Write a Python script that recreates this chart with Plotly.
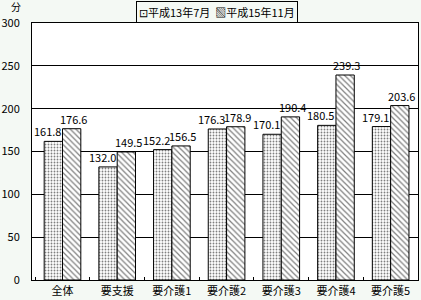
import plotly.graph_objects as go

categories = ["全体", "要支援", "要介護1", "要介護2", "要介護3", "要介護4", "要介護5"]
series_names = ["平成13年7月", "平成15年11月"]
h13 = [161.8, 132.0, 152.2, 176.3, 170.1, 180.5, 179.1]
h15 = [176.6, 149.5, 156.5, 178.9, 190.4, 239.3, 203.6]
y_ticks = [0, 50, 100, 150, 200, 250, 300]

FONT = "Noto Sans CJK JP"
BG = "#f4f9f4"

fig = go.Figure()
fig.add_trace(go.Bar(
    x=categories, y=h13, name=series_names[0],
    marker=dict(color="white", line=dict(color="black", width=1),
                pattern=dict(shape=".", fgcolor="black", bgcolor="white", size=3, solidity=0.3)),
))
fig.add_trace(go.Bar(
    x=categories, y=h15, name=series_names[1],
    marker=dict(color="white", line=dict(color="black", width=1),
                pattern=dict(shape="\\", fgcolor="black", bgcolor="white", size=4, solidity=0.3)),
))

annotations = []
for cat, v in zip(categories, h13):
    annotations.append(dict(x=cat, y=v, text=f"{v:.1f}", xref="x", yref="y",
                            xanchor="center", yanchor="bottom", xshift=-15, yshift=0,
                            showarrow=False, font=dict(family=FONT, size=11)))
for cat, v in zip(categories, h15):
    annotations.append(dict(x=cat, y=v, text=f"{v:.1f}", xref="x", yref="y",
                            xanchor="center", yanchor="bottom", xshift=11, yshift=0,
                            showarrow=False, font=dict(family=FONT, size=11)))

legend_text = "⊡" + series_names[0] + "  ▧" + series_names[1]
annotations.append(dict(text="分", xref="paper", yref="paper", x=-0.041, y=1.0,
                        xanchor="center", yanchor="bottom", yshift=8, showarrow=False,
                        borderpad=0, font=dict(family=FONT, size=10)))
annotations.append(dict(text=legend_text, xref="paper", yref="paper", x=0.48, y=1.0,
                        xanchor="center", yanchor="bottom", yshift=0, showarrow=False,
                        bordercolor="black", borderwidth=1, borderpad=2, bgcolor=BG,
                        font=dict(family=FONT, size=11)))

fig.update_layout(
    width=421, height=300,
    margin=dict(l=32, r=3, t=23, b=20),
    paper_bgcolor=BG, plot_bgcolor="white",
    barmode="group", bargap=0.33, bargroupgap=0,
    font=dict(family=FONT, size=11, color="black"),
    showlegend=False,
    xaxis=dict(showline=True, linecolor="black", linewidth=1, mirror=True,
               ticks="inside", ticklen=3, tickcolor="black", tickson="boundaries",
               ticklabelstandoff=1, automargin=False,
               tickfont=dict(family=FONT, size=11)),
    yaxis=dict(range=[0, 300], tickvals=y_ticks, showgrid=True, gridcolor="black", gridwidth=1,
               showline=True, linecolor="black", linewidth=1, mirror=True, automargin=False,
               ticks="", ticklabelstandoff=9, tickfont=dict(family=FONT, size=11), zeroline=False),
    annotations=annotations,
)

fig.write_html("out.html")
